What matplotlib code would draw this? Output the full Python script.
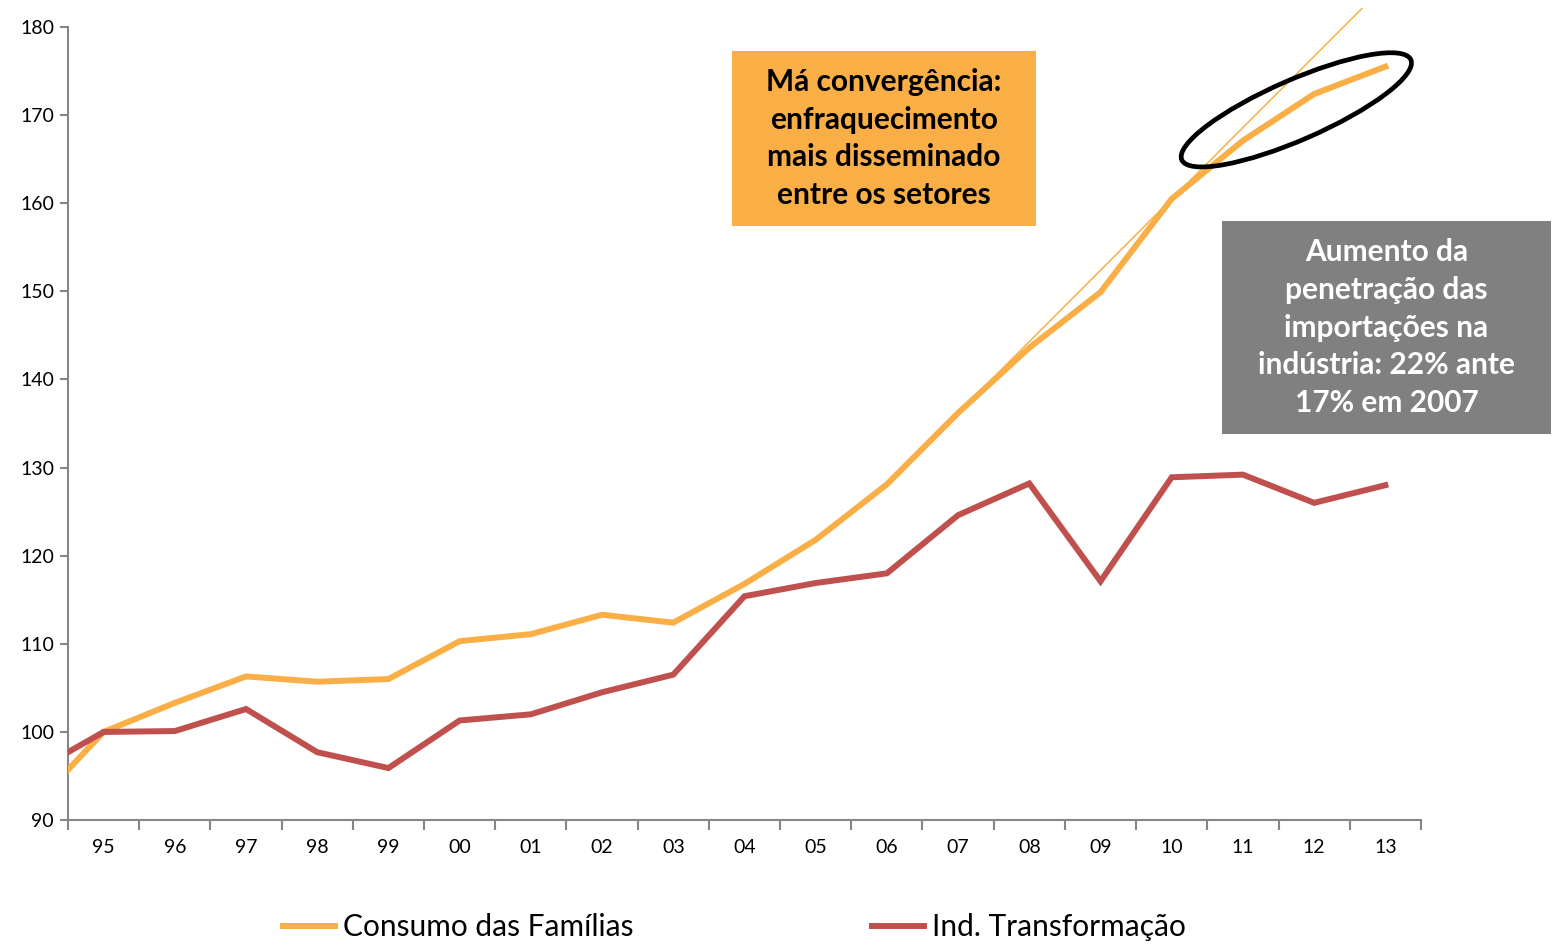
import numpy as np
import matplotlib
matplotlib.use("Agg")
import matplotlib.pyplot as plt
from matplotlib.patches import Ellipse, Rectangle
from matplotlib.transforms import ScaledTranslation

plt.rcParams['font.family'] = ['Lato', 'DejaVu Sans']

# years (94 is only there so the lines run in from the left edge, it is clipped)
years = ['94', '95', '96', '97', '98', '99', '00', '01', '02', '03',
         '04', '05', '06', '07', '08', '09', '10', '11', '12', '13']
consumo = [91.4, 100.0, 103.3, 106.3, 105.7, 106.0, 110.3, 111.1, 113.3, 112.4,
           116.8, 121.8, 128.1, 136.2, 143.6, 149.9, 160.5, 167.1, 172.4, 175.5]
industria = [95.4, 100.0, 100.1, 102.6, 97.7, 95.9, 101.3, 102.0, 104.5, 106.5,
             115.4, 116.9, 118.0, 124.6, 128.2, 117.1, 128.9, 129.2, 126.0, 128.0]

# trend of consumo from 07 through 10, run on past the plot
trend_x = [12, 17.67]
trend_y = [136.2, 182.1]

orange = '#F9AF45'
red = '#C0504D'
axis_grey = '#868686'

x = np.arange(len(years)) - 1   # 95 sits at 0

fig = plt.figure(figsize=(15.56, 9.51), dpi=100)
ax = fig.add_axes([0.0437, 0.1377, 0.9132 - 0.0437, 0.9716 - 0.1377])

ax.plot(x, consumo, color=orange, lw=4.3, solid_joinstyle='miter', label='Consumo das Famílias', zorder=3)
ax.plot(x, industria, color=red, lw=4.3, solid_joinstyle='miter', label='Ind. Transformação', zorder=3)
ax.plot(trend_x, trend_y, color=orange, lw=1.1, clip_on=False, zorder=4)

ax.set_xlim(-0.5, 18.5)
ax.set_ylim(90, 180)

# axes look like the excel one
for s in ['top', 'right']:
    ax.spines[s].set_visible(False)
for s in ['left', 'bottom']:
    ax.spines[s].set_color(axis_grey)
    ax.spines[s].set_linewidth(1.5)

ax.set_yticks(np.arange(90, 181, 10))
ax.tick_params(axis='y', length=6, width=1.5, color=axis_grey, labelsize=14, pad=4)
ax.set_xticks(x[1:], years[1:])
ax.set_xticks(np.arange(-0.5, 18.6, 1), minor=True)
ax.tick_params(axis='x', which='major', length=0, labelsize=14, pad=14)
ax.tick_params(axis='x', which='minor', length=7, width=1.5, color=axis_grey)

# black ellipse round the last points
ell_tr = fig.dpi_scale_trans + ScaledTranslation(16.75, 170.6, ax.transData)
ax.add_patch(Ellipse((0, 0), 2.5, 0.6, angle=23.6, fill=False, ec='black', lw=3.4,
                     transform=ell_tr, clip_on=False, zorder=5))

# text boxes
fig.patches.append(Rectangle((0.4704, 0.7624), 0.1954, 0.184, transform=fig.transFigure,
                             facecolor=orange, edgecolor='none', zorder=2))
fig.text(0.5681, 0.8544, 'Má convergência:\nenfraquecimento\nmais disseminado\nentre os setores',
         ha='center', va='center', fontsize=21.5, fontweight='bold', color='black',
         linespacing=1.42, zorder=3)

fig.patches.append(Rectangle((0.7853, 0.5436), 0.2114, 0.224, transform=fig.transFigure,
                             facecolor='#808080', edgecolor='none', zorder=2))
fig.text(0.8911, 0.6556, 'Aumento da\npenetração das\nimportações na\nindústria: 22% ante\n17% em 2007',
         ha='center', va='center', fontsize=21.5, fontweight='bold', color='white',
         linespacing=1.42, zorder=3)

fig.legend(loc='center', bbox_to_anchor=(0.472, 0.025), ncol=2, frameon=False,
           fontsize=21.5, handlelength=1.75, handletextpad=0.25, columnspacing=8.0)

plt.savefig('out.png', dpi=100)
